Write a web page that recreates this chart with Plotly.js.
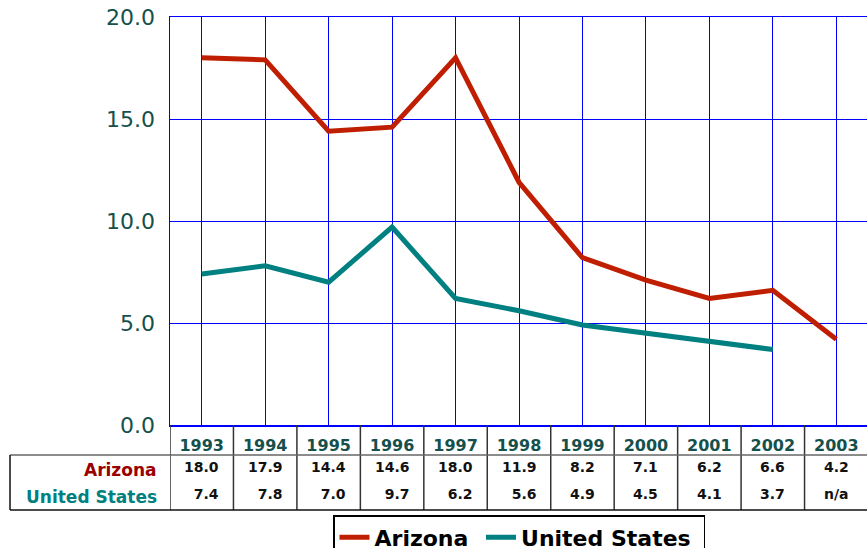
<!DOCTYPE html>
<html>
<head>
<meta charset="utf-8">
<script src="https://cdn.plot.ly/plotly-3.0.1.min.js"></script>
<style>
html,body{margin:0;padding:0;overflow:hidden;background:#fff;}
#chart{width:868px;height:548px;}
</style>
</head>
<body>
<div id="chart"></div>
<script>
var years = ['1993','1994','1995','1996','1997','1998','1999','2000','2001','2002','2003'];
var arizona = [18.0, 17.9, 14.4, 14.6, 18.0, 11.9, 8.2, 7.1, 6.2, 6.6, 4.2];
var unitedStates = [7.4, 7.8, 7.0, 9.7, 6.2, 5.6, 4.9, 4.5, 4.1, 3.7, null];
var seriesNames = ['Arizona', 'United States'];
var yTicks = [0, 5, 10, 15, 20];

var FONT = 'DejaVu Sans, Verdana, sans-serif';
var AZ_COLOR = '#c01e00';
var US_COLOR = '#008080';
var TEAL_TEXT = '#15504c';
var NB = '\u00a0';

var xIdx = years.map(function(_, i){ return i; });

var traces = [
  {x: xIdx, y: arizona, type: 'scatter', mode: 'lines', name: '<b>' + seriesNames[0] + NB + '</b>',
   line: {color: AZ_COLOR, width: 5}, hoverinfo: 'skip'},
  {x: xIdx, y: unitedStates, type: 'scatter', mode: 'lines', name: '<b>' + seriesNames[1] + NB + '</b>',
   line: {color: US_COLOR, width: 5}, hoverinfo: 'skip', connectgaps: false}
];

var plotTop = 17, plotBottom = 425, plotH = plotBottom - plotTop;
var plotLeft = 170, plotW = 698;
function py(p){ return (plotBottom - p) / plotH; }
function px(p){ return (p - plotLeft) / plotW; }

var FS = '\u2007';
function pad(s, n){ while (s.length < n) s = FS + s; return s; }

var annotations = [];
var shapes = [];
var azRowY = py(467), usRowY = py(494);

years.forEach(function(y, i){
  var azTxt = arizona[i] == null ? 'n/a' : arizona[i].toFixed(1);
  var usTxt = unitedStates[i] == null ? 'n/a' : unitedStates[i].toFixed(1);
  usTxt = pad(usTxt, azTxt.length);
  annotations.push({xref:'x', yref:'paper', x:i, y:azRowY, text:'<b>'+azTxt+'</b>', showarrow:false,
    xanchor:'center', yanchor:'middle', font:{family:FONT, size:14, color:'#111'}});
  annotations.push({xref:'x', yref:'paper', x:i, y:usRowY, text:'<b>'+usTxt+'</b>', showarrow:false,
    xanchor:'center', yanchor:'middle', font:{family:FONT, size:14, color:'#111'}});
});

annotations.push({xref:'paper', yref:'paper', x:px(159), y:py(470), text:'<b>'+seriesNames[0]+'</b>',
  showarrow:false, xanchor:'right', yanchor:'middle', font:{family:FONT, size:17, color:'#990000'}});
annotations.push({xref:'paper', yref:'paper', x:px(159), y:py(497), text:'<b>'+seriesNames[1]+'</b>',
  showarrow:false, xanchor:'right', yanchor:'middle', font:{family:FONT, size:17, color:US_COLOR}});

for (var b = 0; b <= years.length; b++) {
  shapes.push({type:'line', xref:'x', yref:'paper', x0:b-0.5, x1:b-0.5, y0:0, y1:py(510),
    line:{color:'#333', width:1.5}});
}
shapes.push({type:'line', xref:'paper', yref:'paper', x0:px(10), x1:1, y0:py(455), y1:py(455), line:{color:'#666', width:1.5}});
shapes.push({type:'line', xref:'paper', yref:'paper', x0:px(10), x1:1, y0:py(510), y1:py(510), line:{color:'#111', width:1.5}});
shapes.push({type:'line', xref:'paper', yref:'paper', x0:px(10), x1:px(10), y0:py(455), y1:py(510), line:{color:'#111', width:1.5}});

var layout = {
  width: 868, height: 548,
  margin: {l: plotLeft, r: 0, t: plotTop, b: 548 - plotBottom, pad: 0, autoexpand: false},
  paper_bgcolor: '#fff', plot_bgcolor: '#fff',
  showlegend: true,
  legend: {orientation:'h', x:px(333), xanchor:'left', y:py(515), yanchor:'top',
    bgcolor:'#fff', bordercolor:'#000', borderwidth:1.5,
    font:{family:FONT, size:22, color:'#000'}},
  xaxis: {range:[-0.5, 10.5], tickvals: xIdx, ticktext: years.map(function(y){return '<b>'+y+'</b>';}),
    showgrid:true, gridcolor:'#0000ff', gridwidth:1, zeroline:false,
    showline:true, linecolor:'#0000ff', linewidth:1.5, mirror:true, ticks:'',
    ticklabelstandoff: 5,
    tickfont:{family:FONT, size:16, color:TEAL_TEXT}, fixedrange:true},
  yaxis: {range:[0, 20], tickvals: yTicks, tickformat:'.1f',
    showgrid:true, gridcolor:'#0000ff', gridwidth:1, zeroline:false,
    showline:true, linecolor:'#0000ff', linewidth:1.5, mirror:true, ticks:'',
    ticklabelstandoff: 9,
    tickfont:{family:FONT, size:22, color:TEAL_TEXT}, fixedrange:true},
  annotations: annotations,
  shapes: shapes
};

Plotly.newPlot('chart', traces, layout, {displayModeBar:false, staticPlot:true});
</script>
</body>
</html>
